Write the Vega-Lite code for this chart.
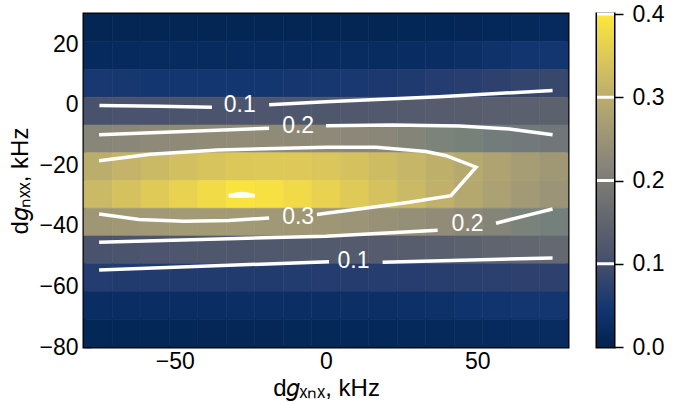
{
  "$schema": "https://vega.github.io/schema/vega-lite/v6.json",
  "background": "white",
  "padding": {"left": 7, "top": 1, "right": 5, "bottom": 0},
  "config": {
    "font": "Liberation Sans",
    "view": {"stroke": "black", "strokeWidth": 3},
    "axis": {
      "grid": false,
      "domain": false,
      "labelFont": "Liberation Sans",
      "labelFontSize": 23,
      "labelColor": "black",
      "tickColor": "black",
      "tickWidth": 1.5,
      "titleFont": "Liberation Sans",
      "titleFontSize": 24,
      "titleFontWeight": "normal",
      "titleColor": "black"
    }
  },
  "datasets": {
    "grid": [
      {"y": 25.4, "x": [-75.3,-65.9,-56.5,-47.1,-37.6,-28.2,-18.8,-9.4,0,9.4,18.8,28.2,37.6,47.1,56.5,65.9,75.3], "v": [0.010,0.010,0.010,0.010,0.010,0.010,0.010,0.010,0.010,0.010,0.010,0.011,0.012,0.013,0.015,0.017,0.020]},
      {"y": 16.2, "x": [-75.3,-65.9,-56.5,-47.1,-37.6,-28.2,-18.8,-9.4,0,9.4,18.8,28.2,37.6,47.1,56.5,65.9,75.3], "v": [0.020,0.020,0.021,0.022,0.022,0.022,0.022,0.022,0.022,0.023,0.024,0.026,0.028,0.032,0.038,0.044,0.046]},
      {"y": 7.1, "x": [-75.3,-65.9,-56.5,-47.1,-37.6,-28.2,-18.8,-9.4,0,9.4,18.8,28.2,37.6,47.1,56.5,65.9,75.3], "v": [0.050,0.048,0.046,0.046,0.046,0.046,0.046,0.047,0.048,0.050,0.052,0.055,0.060,0.064,0.070,0.078,0.085]},
      {"y": -2.1, "x": [-75.3,-65.9,-56.5,-47.1,-37.6,-28.2,-18.8,-9.4,0,9.4,18.8,28.2,37.6,47.1,56.5,65.9,75.3], "v": [0.110,0.111,0.112,0.113,0.114,0.116,0.118,0.119,0.121,0.123,0.125,0.128,0.131,0.134,0.137,0.140,0.142]},
      {"y": -11.2, "x": [-75.3,-65.9,-56.5,-47.1,-37.6,-28.2,-18.8,-9.4,0,9.4,18.8,28.2,37.6,47.1,56.5,65.9,75.3], "v": [0.220,0.224,0.228,0.230,0.232,0.233,0.232,0.230,0.228,0.225,0.222,0.218,0.212,0.205,0.198,0.192,0.188]},
      {"y": -20.4, "x": [-75.3,-65.9,-56.5,-47.1,-37.6,-28.2,-18.8,-9.4,0,9.4,18.8,28.2,37.6,47.1,56.5,65.9,75.3], "v": [0.300,0.312,0.322,0.332,0.342,0.348,0.350,0.349,0.345,0.338,0.328,0.316,0.304,0.292,0.280,0.268,0.258]},
      {"y": -29.6, "x": [-75.3,-65.9,-56.5,-47.1,-37.6,-28.2,-18.8,-9.4,0,9.4,18.8,28.2,37.6,47.1,56.5,65.9,75.3], "v": [0.322,0.338,0.352,0.366,0.380,0.392,0.388,0.378,0.366,0.352,0.338,0.322,0.306,0.290,0.276,0.262,0.250]},
      {"y": -38.8, "x": [-75.3,-65.9,-56.5,-47.1,-37.6,-28.2,-18.8,-9.4,0,9.4,18.8,28.2,37.6,47.1,56.5,65.9,75.3], "v": [0.255,0.258,0.260,0.262,0.262,0.262,0.260,0.258,0.255,0.250,0.245,0.240,0.233,0.226,0.218,0.210,0.203]},
      {"y": -47.9, "x": [-75.3,-65.9,-56.5,-47.1,-37.6,-28.2,-18.8,-9.4,0,9.4,18.8,28.2,37.6,47.1,56.5,65.9,75.3], "v": [0.112,0.114,0.116,0.118,0.120,0.121,0.122,0.124,0.126,0.128,0.131,0.134,0.138,0.143,0.148,0.154,0.158]},
      {"y": -57.1, "x": [-75.3,-65.9,-56.5,-47.1,-37.6,-28.2,-18.8,-9.4,0,9.4,18.8,28.2,37.6,47.1,56.5,65.9,75.3], "v": [0.060,0.058,0.057,0.057,0.057,0.058,0.058,0.059,0.060,0.061,0.062,0.063,0.064,0.066,0.068,0.070,0.072]},
      {"y": -66.2, "x": [-75.3,-65.9,-56.5,-47.1,-37.6,-28.2,-18.8,-9.4,0,9.4,18.8,28.2,37.6,47.1,56.5,65.9,75.3], "v": [0.028,0.028,0.028,0.028,0.028,0.029,0.029,0.030,0.030,0.031,0.032,0.034,0.036,0.039,0.042,0.045,0.046]},
      {"y": -75.4, "x": [-75.3,-65.9,-56.5,-47.1,-37.6,-28.2,-18.8,-9.4,0,9.4,18.8,28.2,37.6,47.1,56.5,65.9,75.3], "v": [0.012,0.012,0.012,0.012,0.013,0.013,0.013,0.014,0.014,0.015,0.015,0.016,0.017,0.018,0.020,0.022,0.024]}
    ],
    "contours": [
      {"seg": "a1", "i": 0, "x": -74.9, "y": -0.2},
      {"seg": "a1", "i": 1, "x": -55.0, "y": -0.5},
      {"seg": "a1", "i": 2, "x": -37.7, "y": -0.8},
      {"seg": "a2", "i": 0, "x": -18.8, "y": 0.0},
      {"seg": "a2", "i": 1, "x": 0.0, "y": 1.0},
      {"seg": "a2", "i": 2, "x": 37.4, "y": 2.7},
      {"seg": "a2", "i": 3, "x": 74.9, "y": 4.7},
      {"seg": "b1", "i": 0, "x": -75.0, "y": -9.9},
      {"seg": "b1", "i": 1, "x": -46.9, "y": -8.8},
      {"seg": "b1", "i": 2, "x": -18.8, "y": -7.7},
      {"seg": "b2", "i": 0, "x": 0.0, "y": -6.9},
      {"seg": "b2", "i": 1, "x": 22.0, "y": -6.7},
      {"seg": "b2", "i": 2, "x": 44.1, "y": -7.0},
      {"seg": "b2", "i": 3, "x": 60.6, "y": -8.0},
      {"seg": "b2", "i": 4, "x": 74.9, "y": -9.9},
      {"seg": "c1", "i": 0, "x": -75.0, "y": -18.5},
      {"seg": "c1", "i": 1, "x": -58.0, "y": -16.3},
      {"seg": "c1", "i": 2, "x": -35.9, "y": -14.9},
      {"seg": "c1", "i": 3, "x": 0.0, "y": -14.0},
      {"seg": "c1", "i": 4, "x": 16.5, "y": -14.0},
      {"seg": "c1", "i": 5, "x": 33.1, "y": -15.4},
      {"seg": "c1", "i": 6, "x": 39.7, "y": -16.8},
      {"seg": "c1", "i": 7, "x": 49.6, "y": -20.6},
      {"seg": "c1", "i": 8, "x": 41.3, "y": -30.0},
      {"seg": "c1", "i": 9, "x": 27.5, "y": -32.2},
      {"seg": "c1", "i": 10, "x": 11.0, "y": -34.4},
      {"seg": "c1", "i": 11, "x": 0.0, "y": -35.8},
      {"seg": "c1", "i": 12, "x": -3.0, "y": -36.2},
      {"seg": "c2", "i": 0, "x": -18.8, "y": -37.4},
      {"seg": "c2", "i": 1, "x": -32.1, "y": -38.2},
      {"seg": "c2", "i": 2, "x": -46.9, "y": -38.5},
      {"seg": "c2", "i": 3, "x": -61.8, "y": -37.9},
      {"seg": "c2", "i": 4, "x": -75.0, "y": -36.1},
      {"seg": "d1", "i": 0, "x": -75.0, "y": -45.4},
      {"seg": "d1", "i": 1, "x": 0.0, "y": -43.4},
      {"seg": "d1", "i": 2, "x": 36.9, "y": -41.4},
      {"seg": "d2", "i": 0, "x": 56.2, "y": -39.1},
      {"seg": "d2", "i": 1, "x": 66.1, "y": -36.6},
      {"seg": "d2", "i": 2, "x": 74.9, "y": -34.4},
      {"seg": "e1", "i": 0, "x": -75.0, "y": -54.6},
      {"seg": "e1", "i": 1, "x": 1.0, "y": -51.8},
      {"seg": "e2", "i": 0, "x": 18.7, "y": -52.0},
      {"seg": "e2", "i": 1, "x": 74.9, "y": -50.6},
      {"seg": "f", "i": 0, "x": -32.2, "y": -30.0},
      {"seg": "f", "i": 1, "x": -29.8, "y": -29.5},
      {"seg": "f", "i": 2, "x": -27.7, "y": -29.3},
      {"seg": "f", "i": 3, "x": -25.8, "y": -29.5},
      {"seg": "f", "i": 4, "x": -23.6, "y": -30.0},
      {"seg": "f", "i": 5, "x": -27.8, "y": -30.2},
      {"seg": "f", "i": 6, "x": -32.2, "y": -30.0}
    ],
    "labels": [
      {"label": "0.1", "x": -28.5, "y": 0.1},
      {"label": "0.2", "x": -9.2, "y": -6.9},
      {"label": "0.3", "x": -9.2, "y": -37.2},
      {"label": "0.2", "x": 46.8, "y": -39.4},
      {"label": "0.1", "x": 9.1, "y": -51.5}
    ],
    "bar": [{"lo": 0, "hi": 0.4}],
    "levels": [{"level": 0.1}, {"level": 0.2}, {"level": 0.3}, {"level": 0.4}]
  },
  "spacing": 29,
  "bounds": "flush",
  "hconcat": [
    {
      "width": 484,
      "height": 333,
      "layer": [
        {
          "data": {"name": "grid"},
          "transform": [
            {"flatten": ["x", "v"]},
            {"bin": {"extent": [-80, 80], "step": 9.411764705882353, "nice": false}, "field": "x", "as": ["x0", "x1"]},
            {"bin": {"extent": [-80, 30], "step": 9.166666666666666, "nice": false}, "field": "y", "as": ["y0", "y1"]}
          ],
          "mark": {"type": "rect", "strokeWidth": 0.6},
          "encoding": {
            "x": {
              "field": "x0", "type": "quantitative",
              "scale": {"domain": [-80, 80], "nice": false, "zero": false},
              "axis": {"values": [-50, 0, 50], "title": "d𝑔ₓₙₓ, kHz", "tickSize": -7, "labelPadding": 10, "titlePadding": 3}
            },
            "x2": {"field": "x1"},
            "y": {
              "field": "y0", "type": "quantitative",
              "scale": {"domain": [-80, 30], "nice": false, "zero": false},
              "axis": {"values": [-80, -60, -40, -20, 0, 20], "title": "d𝑔ₙₓₓ, kHz", "tickSize": -7, "labelPadding": 13, "titlePadding": 6}
            },
            "y2": {"field": "y1"},
            "fill": {
              "field": "v", "type": "quantitative", "legend": null,
              "scale": {"domain": [0, 0.04444, 0.08889, 0.13333, 0.17778, 0.22222, 0.26667, 0.31111, 0.35556, 0.4],
                        "range": ["#00224e", "#123570", "#3b496c", "#575d6d", "#707173", "#8a8678", "#a59c74", "#c3b369", "#e1cc55", "#fee838"]}
            },
            "stroke": {
              "field": "v", "type": "quantitative", "legend": null,
              "scale": {"domain": [0, 0.04444, 0.08889, 0.13333, 0.17778, 0.22222, 0.26667, 0.31111, 0.35556, 0.4],
                        "range": ["#00224e", "#123570", "#3b496c", "#575d6d", "#707173", "#8a8678", "#a59c74", "#c3b369", "#e1cc55", "#fee838"]}
            }
          }
        },
        {
          "data": {"name": "contours"},
          "mark": {"type": "line", "stroke": "white", "strokeWidth": 3.5, "strokeCap": "butt", "strokeJoin": "miter"},
          "encoding": {
            "x": {"field": "x", "type": "quantitative"},
            "y": {"field": "y", "type": "quantitative"},
            "detail": {"field": "seg"},
            "order": {"field": "i", "type": "quantitative"}
          }
        },
        {
          "data": {"name": "labels"},
          "mark": {"type": "text", "color": "white", "fontSize": 23, "font": "Liberation Sans", "align": "center", "baseline": "middle"},
          "encoding": {
            "x": {"field": "x", "type": "quantitative"},
            "y": {"field": "y", "type": "quantitative"},
            "text": {"field": "label"}
          }
        }
      ]
    },
    {
      "width": 17,
      "height": 333,
      "layer": [
        {
          "data": {"name": "bar"},
          "mark": {
            "type": "rect",
            "fill": {
              "gradient": "linear", "x1": 0, "y1": 1, "x2": 0, "y2": 0,
              "stops": [
                {"offset": 0, "color": "#00224e"},
                {"offset": 0.1111, "color": "#123570"},
                {"offset": 0.2222, "color": "#3b496c"},
                {"offset": 0.3333, "color": "#575d6d"},
                {"offset": 0.4444, "color": "#707173"},
                {"offset": 0.5556, "color": "#8a8678"},
                {"offset": 0.6667, "color": "#a59c74"},
                {"offset": 0.7778, "color": "#c3b369"},
                {"offset": 0.8889, "color": "#e1cc55"},
                {"offset": 1, "color": "#fee838"}
              ]
            }
          },
          "encoding": {
            "y": {
              "field": "lo", "type": "quantitative",
              "scale": {"domain": [0, 0.4], "nice": false, "zero": false},
              "axis": {"orient": "right", "values": [0, 0.1, 0.2, 0.3, 0.4], "format": ".1f", "title": null, "tickSize": 9, "labelPadding": 9}
            },
            "y2": {"field": "hi"}
          }
        },
        {
          "data": {"name": "levels"},
          "mark": {"type": "rule", "stroke": "white", "strokeWidth": 3},
          "encoding": {"y": {"field": "level", "type": "quantitative"}}
        }
      ]
    }
  ]
}
